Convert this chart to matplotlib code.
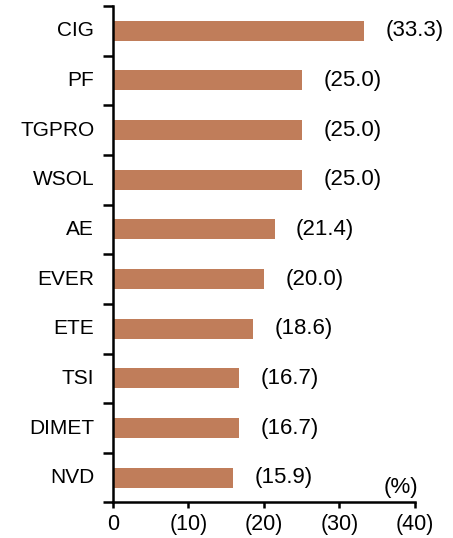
import numpy as np
import matplotlib.pyplot as plt

plt.rcParams['font.family'] = ['Liberation Sans', 'DejaVu Sans']

names = ['CIG', 'PF', 'TGPRO', 'WSOL', 'AE', 'EVER', 'ETE', 'TSI', 'DIMET', 'NVD']
values = [33.3, 25.0, 25.0, 25.0, 21.4, 20.0, 18.6, 16.7, 16.7, 15.9]
xticks = [0, 10, 20, 30, 40]
xtick_labels = ['0', '(10)', '(20)', '(30)', '(40)']

fig = plt.figure(figsize=(4.53, 5.38), dpi=100)
ax = fig.add_axes([0.2494, 0.066, 0.6667, 0.923])

pos = np.arange(len(names))[::-1]
ax.barh(pos, values, height=0.4, color='#C07D5A', edgecolor='none')

# labels sit a fixed gap right of each bar
for p, v in zip(pos, values):
    ax.annotate('({:.1f})'.format(v), (v, p), xytext=(15.5, 0), textcoords='offset points',
                va='center', ha='left', fontsize=16)

ax.set_xlim(0, 40)
ax.set_ylim(-0.5, len(names) - 0.5)
ax.set_xticks(xticks)
ax.set_xticklabels(xtick_labels, fontsize=15.5)
ax.set_yticks(np.arange(len(names) + 1) - 0.5)
ax.set_yticklabels([])
for p, n in zip(pos, names):
    ax.text(-0.062, p, n, transform=ax.get_yaxis_transform(), ha='right', va='center', fontsize=15)

ax.spines['top'].set_visible(False)
ax.spines['right'].set_visible(False)
ax.spines['left'].set_linewidth(1.8)
ax.spines['bottom'].set_linewidth(1.8)
ax.tick_params(axis='y', length=7, width=1.8, direction='out')
ax.tick_params(axis='x', length=4, width=1.8, direction='out', pad=4)

ax.text(1.01, 0.01, '(%)', transform=ax.transAxes, ha='right', va='bottom', fontsize=16)

fig.savefig('out.png', dpi=100)
